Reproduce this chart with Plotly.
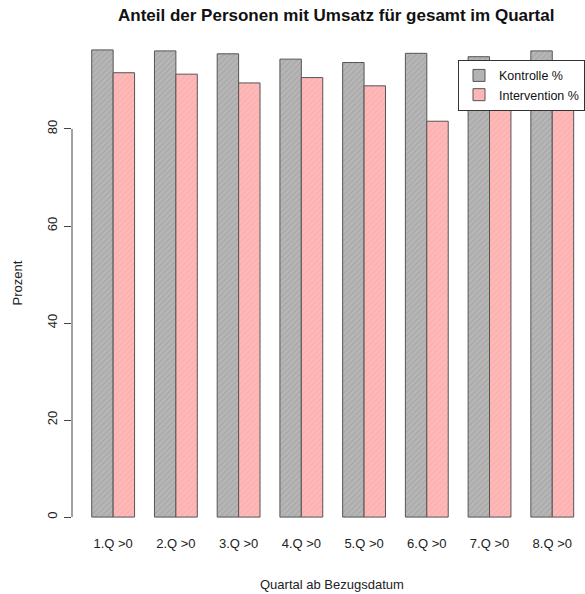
import plotly.graph_objects as go

categories = ["1.Q >0", "2.Q >0", "3.Q >0", "4.Q >0", "5.Q >0", "6.Q >0", "7.Q >0", "8.Q >0"]
kontrolle = [96.3, 96.1, 95.5, 94.4, 93.7, 95.6, 94.9, 96.1]
intervention = [91.6, 91.3, 89.5, 90.6, 88.9, 81.6, 90.0, 91.0]
y_ticks = [0, 20, 40, 60, 80]

title_text = "Anteil der Personen mit Umsatz für gesamt im Quartal"
x_title = "Quartal ab Bezugsdatum"
y_title = "Prozent"

FONT = "Liberation Sans, Arial, sans-serif"

fig = go.Figure()
fig.add_trace(go.Bar(
    x=categories, y=kontrolle, name="Kontrolle %",
    marker=dict(color="#b4b4b4", line=dict(color="#555555", width=1),
                pattern=dict(shape="/", fgcolor="#939393", bgcolor="#b6b6b6",
                             size=4, solidity=0.25)),
))
fig.add_trace(go.Bar(
    x=categories, y=intervention, name="Intervention %",
    marker=dict(color="#ffb4b4", line=dict(color="#555555", width=1),
                pattern=dict(shape="/", fgcolor="#f3a0a0", bgcolor="#ffb8b8",
                             size=4, solidity=0.25)),
))

fig.update_layout(
    width=585, height=594,
    margin=dict(l=72, r=0, t=31, b=58),
    paper_bgcolor="white", plot_bgcolor="white",
    barmode="group", bargap=0.317, bargroupgap=0,
    font=dict(family=FONT, size=13, color="#222222"),
    showlegend=True,
    legend=dict(x=0.756, y=0.943, xanchor="left", yanchor="top",
                bgcolor="white", bordercolor="#333333", borderwidth=1,
                font=dict(size=12.5, color="#111111"), tracegroupgap=0),
    xaxis=dict(range=[-0.656, 7.49], showline=False, showgrid=False, zeroline=False,
               ticks="", tickfont=dict(size=13), ticklabelstandoff=-2),
    yaxis=dict(range=[-3.9, 100.2], showline=False, showgrid=False, zeroline=False,
               tickvals=y_ticks, ticks="outside", ticklen=7, tickcolor="#444444",
               tickangle=-90, tickfont=dict(size=13), ticklabelstandoff=2),
    annotations=[
        dict(text="<b>" + title_text + "</b>", xref="paper", yref="paper",
             x=0.517, y=1.0, yshift=16, xanchor="center", yanchor="middle",
             showarrow=False, font=dict(size=17, color="#111111")),
        dict(text=x_title, xref="paper", yref="paper", x=0.508, y=0, yshift=-48,
             xanchor="center", yanchor="middle", showarrow=False, font=dict(size=13)),
        dict(text=y_title, xref="paper", yref="paper", x=0, xshift=-55, y=0.5,
             xanchor="center", yanchor="middle", textangle=-90, showarrow=False,
             font=dict(size=13)),
    ],
    shapes=[dict(type="line", xref="paper", yref="y", x0=0, x1=0,
                 y0=min(y_ticks), y1=max(y_ticks), line=dict(color="#444444", width=1))],
)

fig.write_html("out.html")
